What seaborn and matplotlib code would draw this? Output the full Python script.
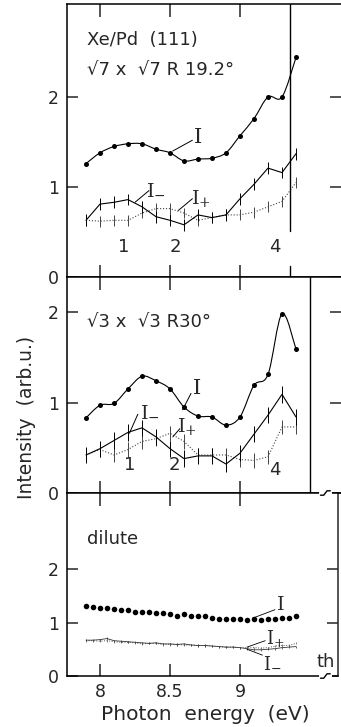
import numpy as np
import matplotlib
matplotlib.use("Agg")
import matplotlib.pyplot as plt
import matplotlib.transforms as mtransforms
from matplotlib.path import Path
from matplotlib.patches import PathPatch
import seaborn as sns

# ---------------- data ----------------
energy16 = [7.9, 8.0, 8.1, 8.2, 8.3, 8.4, 8.5, 8.6, 8.7, 8.8, 8.9, 9.0, 9.1, 9.2, 9.3, 9.4]

# sqrt7 x sqrt7 R19.2
p1_I = [1.26, 1.38, 1.45, 1.48, 1.48, 1.42, 1.38, 1.29, 1.31, 1.32, 1.38, 1.57, 1.76, 2.00, 2.00, 2.44]
p1_Im = [0.63, 0.81, 0.83, 0.86, 0.78, 0.67, 0.63, 0.58, 0.69, 0.66, 0.69, 0.87, 1.03, 1.21, 1.16, 1.37]
p1_Ip = [0.63, 0.62, 0.63, 0.63, 0.71, 0.76, 0.76, 0.71, 0.63, 0.66, 0.69, 0.69, 0.72, 0.78, 0.84, 1.05]

# sqrt3 x sqrt3 R30
p2_I = [0.83, 0.97, 0.99, 1.15, 1.29, 1.24, 1.15, 0.95, 0.85, 0.84, 0.75, 0.84, 1.19, 1.31, 1.98, 1.59]
p2_Im = [0.42, 0.49, 0.58, 0.67, 0.72, 0.62, 0.49, 0.38, 0.41, 0.41, 0.32, 0.44, 0.65, 0.86, 1.09, 0.84]
p2_Ip = [0.42, 0.48, 0.42, 0.48, 0.57, 0.60, 0.66, 0.57, 0.42, 0.42, 0.42, 0.37, 0.36, 0.40, 0.73, 0.73]

# dilute
energy31 = [7.9, 7.95, 8.0, 8.05, 8.1, 8.15, 8.2, 8.25, 8.3, 8.35, 8.4, 8.45, 8.5, 8.55, 8.6, 8.65,
            8.7, 8.75, 8.8, 8.85, 8.9, 8.95, 9.0, 9.05, 9.1, 9.15, 9.2, 9.25, 9.3, 9.35, 9.4]
p3_I = [1.30, 1.29, 1.28, 1.28, 1.26, 1.24, 1.23, 1.20, 1.19, 1.20, 1.17, 1.17, 1.15, 1.13, 1.15, 1.13,
        1.12, 1.12, 1.09, 1.07, 1.07, 1.07, 1.06, 1.04, 1.07, 1.05, 1.06, 1.07, 1.08, 1.09, 1.13]
p3_Im = [0.67, 0.67, 0.68, 0.70, 0.66, 0.65, 0.64, 0.63, 0.62, 0.61, 0.62, 0.60, 0.60, 0.59, 0.60, 0.58,
         0.57, 0.57, 0.56, 0.55, 0.54, 0.54, 0.53, 0.51, 0.49, 0.49, 0.50, 0.51, 0.53, 0.54, 0.55]
p3_Ip = [0.66, 0.66, 0.65, 0.66, 0.64, 0.63, 0.63, 0.62, 0.60, 0.61, 0.61, 0.59, 0.59, 0.59, 0.58, 0.58,
         0.57, 0.57, 0.56, 0.55, 0.54, 0.54, 0.53, 0.53, 0.53, 0.52, 0.53, 0.56, 0.57, 0.57, 0.61]

xticks = [8, 8.5, 9]
xticklabels = ["8", "8.5", "9"]
yticks = [0, 1, 2]
panel_titles = [["Xe/Pd  (111)", "√7 x  √7 R 19.2°"], ["√3 x  √3 R30°"], ["dilute"]]
xlabel = "Photon  energy  (eV)"
ylabel = "Intensity  (arb.u.)"
LBL_I = r"$\mathrm{I}$"
LBL_M = r"$\mathrm{I}_{-}$"
LBL_P = r"$\mathrm{I}_{+}$"

# ---------------- style ----------------
sns.set_style("ticks")
plt.rcParams["font.family"] = ["DejaVu Sans"]
plt.rcParams["mathtext.fontset"] = "dejavuserif"
plt.rcParams["axes.linewidth"] = 1.1

W, H = 341, 727
fig = plt.figure(figsize=(W / 100, H / 100), dpi=100)

PX_PER_EV = 140.0
LEFT_PX = 67
X0 = 8 - (100 - LEFT_PX) / PX_PER_EV


def add_panel(top_px, bot_px, right_px, y_scale):
    ax = fig.add_axes([LEFT_PX / W, 1 - bot_px / H, (right_px - LEFT_PX) / W, (bot_px - top_px) / H])
    ax.set_xlim(X0, X0 + (right_px - LEFT_PX) / PX_PER_EV)
    ax.set_ylim(0, (bot_px - top_px) / y_scale)
    return ax


def smooth(ax, x, y, lw=0.8):
    pts = np.column_stack([x, y]).astype(float)
    verts = [pts[0]]
    codes = [Path.MOVETO]
    n = len(pts)
    for i in range(n - 1):
        p0 = pts[i - 1] if i > 0 else pts[i]
        p1 = pts[i]
        p2 = pts[i + 1]
        p3 = pts[i + 2] if i + 2 < n else pts[i + 1]
        verts += [p1 + (p2 - p0) / 6, p2 - (p3 - p1) / 6, p2]
        codes += [Path.CURVE4] * 3
    ax.add_patch(PathPatch(Path(verts, codes), fill=False, lw=lw, color="black"))


def style_axes(ax, xlabels=False, right_spine=False):
    for s in ["left", "top", "bottom"]:
        ax.spines[s].set_visible(True)
        ax.spines[s].set_color("black")
    ax.spines["right"].set_visible(right_spine)
    ax.set_xticks(xticks)
    ax.set_yticks(yticks)
    ax.set_yticklabels([str(t) for t in yticks], fontsize=12.5)
    if xlabels:
        ax.set_xticklabels(xticklabels, fontsize=12.5)
    else:
        ax.set_xticklabels([])
    ax.tick_params(axis="x", direction="in", top=True, bottom=True, length=9, width=1.1, pad=5)
    ax.tick_params(axis="y", direction="in", left=True, right=True, length=8, width=1.1, pad=6)
    ax.set_xlabel("")
    ax.set_ylabel("")


def series(ax, x, I, Im, Ip, err_m, err_p, dot=13):
    sns.lineplot(x=x, y=Ip, ax=ax, color="#444444", lw=0.8, linestyle=":", sort=False, estimator=None)
    sns.lineplot(x=x, y=Im, ax=ax, color="black", lw=0.8, sort=False, estimator=None)
    ax.errorbar(x, Ip, yerr=err_p, fmt="none", ecolor="#444444", elinewidth=0.7, capsize=0)
    ax.errorbar(x, Im, yerr=err_m, fmt="none", ecolor="black", elinewidth=0.7, capsize=0)
    sns.scatterplot(x=x, y=I, ax=ax, color="black", s=dot, edgecolor="black", linewidth=0)


def tag(ax, txt, pos, line_from, line_to, fs=14, lw=0.7):
    ax.text(pos[0], pos[1], txt, ha="center", va="center", fontsize=fs)
    ax.plot([line_from[0], line_to[0]], [line_from[1], line_to[1]], color="black", lw=lw)


# ---------------- panel 1 ----------------
ax1 = add_panel(4, 277, 341, 90.0)
series(ax1, energy16, p1_I, p1_Im, p1_Ip, 0.065, 0.06)
smooth(ax1, energy16, p1_I)
style_axes(ax1)
ax1.axvline(9.36, ymin=0.17, ymax=1, color="black", lw=1.0)
ax1.axvline(9.36, ymin=0, ymax=0.04, color="black", lw=1.0)
ax1.text(7.91, 2.63, panel_titles[0][0], fontsize=13, va="center", ha="left")
ax1.text(7.91, 2.30, panel_titles[0][1], fontsize=13, va="center", ha="left")
tag(ax1, LBL_I, (8.70, 1.56), (8.52, 1.40), (8.66, 1.52), fs=15)
tag(ax1, LBL_M, (8.40, 0.98), (8.25, 0.83), (8.35, 0.96))
tag(ax1, LBL_P, (8.72, 0.87), (8.56, 0.74), (8.66, 0.87))
for t, xx, yy in [("1", 8.17, 0.33), ("2", 8.54, 0.33), ("4", 9.25, 0.33)]:
    ax1.text(xx, yy, t, ha="center", va="center", fontsize=13)

# ---------------- panel 2 ----------------
ax2 = add_panel(277, 493, 341, 90.5)
series(ax2, energy16, p2_I, p2_Im, p2_Ip, 0.09, 0.08)
smooth(ax2, energy16, p2_I)
style_axes(ax2)
ax2.axvline(9.5, color="black", lw=1.0)
ax2.text(7.91, 1.89, panel_titles[1][0], fontsize=13, va="center", ha="left")
tag(ax2, LBL_I, (8.69, 1.16), (8.59, 0.92), (8.65, 1.10), fs=15)
tag(ax2, LBL_M, (8.36, 0.91), (8.21, 0.66), (8.27, 0.87))
tag(ax2, LBL_P, (8.62, 0.74), (8.52, 0.62), (8.57, 0.71))
for t, xx, yy in [("1", 8.21, 0.31), ("2", 8.53, 0.31), ("4", 9.25, 0.25)]:
    ax2.text(xx, yy, t, ha="center", va="center", fontsize=13)

# ---------------- panel 3 ----------------
ax3 = add_panel(493, 676, 338, 53.5)
sns.lineplot(x=energy31, y=p3_Ip, ax=ax3, color="#555555", lw=0.7, linestyle=":", sort=False, estimator=None)
sns.lineplot(x=energy31, y=p3_Im, ax=ax3, color="#333333", lw=0.6, sort=False, estimator=None)
ax3.errorbar(energy31, p3_Ip, yerr=0.02, fmt="none", ecolor="#555555", elinewidth=0.5, capsize=0)
ax3.errorbar(energy31, p3_Im, yerr=0.02, fmt="none", ecolor="#333333", elinewidth=0.5, capsize=0)
sns.scatterplot(x=energy31, y=p3_I, ax=ax3, color="black", s=16, edgecolor="black", linewidth=0)
style_axes(ax3, xlabels=True, right_spine=True)
ax3.text(7.91, 2.57, panel_titles[2][0], fontsize=13, va="center", ha="left")
tag(ax3, LBL_I, (9.29, 1.33), (9.09, 1.08), (9.25, 1.24), fs=14, lw=0.6)
tag(ax3, LBL_P, (9.25, 0.71), (9.05, 0.54), (9.18, 0.66), fs=13, lw=0.6)
tag(ax3, LBL_M, (9.23, 0.27), (9.05, 0.50), (9.16, 0.39), fs=13, lw=0.6)
ax3.text(9.61, 0.26, "th", ha="center", va="center", fontsize=13)

# axis break marks on panel 3 frame
BREAK_X = 9.61
trans = mtransforms.blended_transform_factory(ax3.transData, ax3.transAxes)
for yb in (0.0, 1.0):
    ax3.plot([BREAK_X - 0.035, BREAK_X + 0.035], [yb, yb], color="white", lw=3, transform=trans,
             clip_on=False, zorder=5)
    ax3.plot([BREAK_X - 0.035, BREAK_X - 0.012, BREAK_X + 0.012, BREAK_X + 0.035],
             [yb - 0.012, yb - 0.012, yb + 0.012, yb + 0.012], color="black", lw=1.0,
             transform=trans, clip_on=False, zorder=6)

# axis labels
fig.text(205 / W, 1 - 715 / H, xlabel, ha="center", va="center", fontsize=14.5)
fig.text(27 / W, 1 - 417 / H, ylabel, ha="center", va="center", fontsize=13.5, rotation=90)

fig.savefig("out.png", dpi=100)
